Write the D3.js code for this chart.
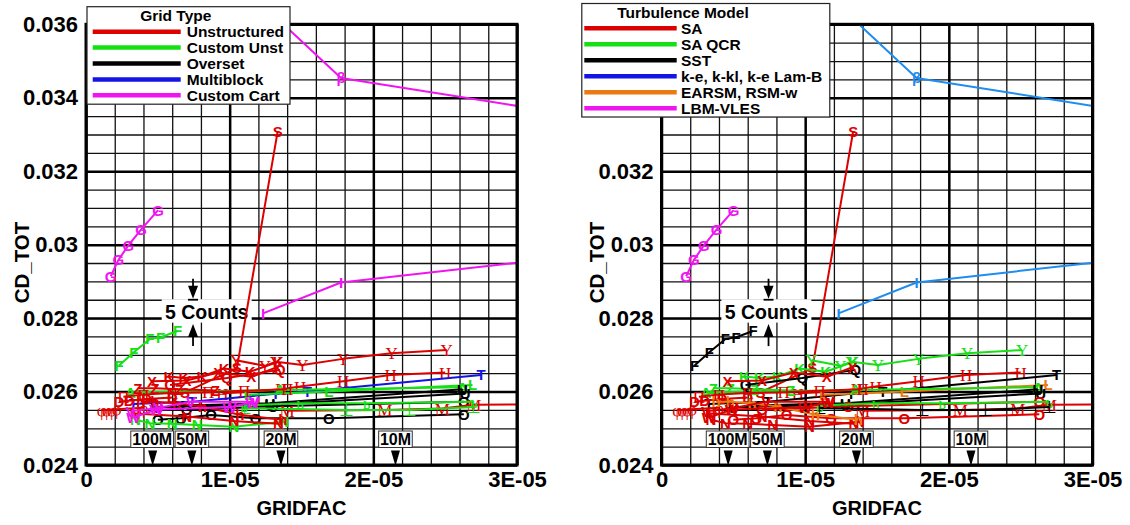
<!DOCTYPE html>
<html>
<head>
<meta charset="utf-8">
<script src="https://cdn.jsdelivr.net/npm/d3@7"></script>
<style>
  html, body { margin: 0; padding: 0; background: #fff; }
  svg { display: block; font-family: "Liberation Sans", Arial, sans-serif; }
</style>
</head>
<body>
<svg id="chart" width="1130" height="525"></svg>
<script>
// ---- categories and colours ----
const gridTypes = ["Unstructured", "Custom Unst", "Overset", "Multiblock", "Custom Cart"];
const gridColors = ["#dd0000", "#14e014", "#000000", "#1414e6", "#f014f0"];
const turbModels = ["SA", "SA QCR", "SST", "k-e, k-kl, k-e Lam-B", "EARSM, RSM-w", "LBM-VLES", "other"];
const modelColors = ["#dd0000", "#14e014", "#000000", "#1414e6", "#ec7a12", "#f014f0", "#1e8cf0"];
const modelsInLegend = 6;

// ---- axis ticks ----
const xTicks = [0, 1e-5, 2e-5, 3e-5];
const xTickLabels = ["0", "1E-05", "2E-05", "3E-05"];
const yTicks = [0.024, 0.026, 0.028, 0.030, 0.032, 0.034, 0.036];
const yTickLabels = ["0.024", "0.026", "0.028", "0.03", "0.032", "0.034", "0.036"];

// ---- mesh size markers (GRIDFAC of the named meshes) ----
const meshLabels = ["100M", "50M", "20M", "10M"];
const meshGridfac = [4.64e-6, 7.37e-6, 1.357e-5, 2.154e-5];

// ---- "5 Counts" scale bar ----
const countsText = "5 Counts";
const countsRange = [0.0280, 0.0285];

// ---- series: symbol, grid type, turbulence model, GRIDFAC, CD_TOT ----
const seriesMarker = ["β", "I", "G", "S", "F", "Y", "H", "T", "L", "A", "U", "U", "O", "O", "M",
                      "ь", "⊥", "φ", "D", "Z", "K", "Q", "N", "N", "h", "V", "W", "X", "Π"];
const seriesGrid  = [4, 4, 4, 0, 1, 0, 0, 3, 1, 1, 2, 2, 2, 2, 0,
                     1, 1, 0, 0, 0, 0, 0, 1, 0, 0, 4, 4, 0, 0];
const seriesModel = [6, 6, 5, 0, 2, 1, 0, 2, 4, 1, 2, 2, 0, 0, 0,
                     1, 2, 0, 0, 1, 1, 2, 0, 0, 4, 0, 0, 0, 0];
const seriesX = [
  [1.10e-5, 1.775e-5, 3.40e-5],
  [1.232e-5, 1.775e-5, 3.40e-5],
  [1.72e-6, 2.25e-6, 2.95e-6, 3.83e-6, 5.02e-6],
  [6.9e-6, 1.05e-5, 1.334e-5],
  [2.30e-6, 3.33e-6, 4.45e-6, 5.20e-6, 6.37e-6],
  [1.044e-5, 1.246e-5, 1.322e-5, 1.507e-5, 1.789e-5, 2.127e-5, 2.510e-5],
  [9.5e-6, 1.36e-5, 1.49e-5, 1.79e-5, 2.12e-5, 2.50e-5],
  [3.3e-6, 4.6e-6, 7.4e-6, 1.32e-5, 1.54e-5, 2.75e-5],
  [1.13e-5, 1.69e-5, 2.69e-5],
  [3.1e-6, 1.35e-5, 2.62e-5],
  [6.5e-6, 1.28e-5, 2.62e-5],
  [5.0e-6, 1.28e-5, 2.64e-5],
  [7.0e-6, 1.30e-5, 2.63e-5],
  [5.0e-6, 6.6e-6, 8.7e-6, 1.18e-5, 1.69e-5, 2.63e-5],
  [1.40e-5, 2.08e-5, 2.48e-5, 2.70e-5, 3.40e-5],
  [1.10e-5, 1.49e-5, 1.954e-5, 2.70e-5],
  [1.10e-5, 1.815e-5, 2.255e-5, 2.70e-5],
  [1.09e-6, 1.44e-6, 1.79e-6, 2.13e-6, 4.0e-6],
  [2.3e-6, 3.0e-6, 4.2e-6, 6.0e-6],
  [3.6e-6, 4.8e-6, 6.5e-6, 9.0e-6],
  [5.78e-6, 6.82e-6, 8.07e-6, 9.61e-6, 1.142e-5, 1.337e-5],
  [5.85e-6, 9.8e-6, 1.35e-5],
  [3.44e-6, 4.45e-6, 5.99e-6, 7.73e-6, 1.03e-5, 1.378e-5],
  [3.4e-6, 7.0e-6, 1.03e-5, 1.34e-5],
  [3.8e-6, 4.8e-6, 6.3e-6, 8.1e-6, 1.07e-5, 1.37e-5],
  [3.1e-6, 5.0e-6, 7.3e-6, 1.17e-5],
  [3.3e-6, 4.9e-6, 1.0e-5, 1.16e-5],
  [4.6e-6, 7.0e-6, 9.2e-6, 1.15e-5, 1.33e-5],
  [2.6e-6, 4.0e-6, 6.0e-6, 8.5e-6, 1.1e-5, 1.4e-5]
];
const seriesY = [
  [0.0370, 0.03454, 0.03353],
  [0.02813, 0.02897, 0.02968],
  [0.02914, 0.02958, 0.02998, 0.03041, 0.03094],
  [0.02598, 0.02664, 0.03308],
  [0.02671, 0.02707, 0.02743, 0.02748, 0.02765],
  [0.02685, 0.02670, 0.02681, 0.02672, 0.02689, 0.02704, 0.02713],
  [0.02595, 0.02606, 0.02614, 0.02628, 0.02645, 0.02652],
  [0.02566, 0.02568, 0.02572, 0.02594, 0.02600, 0.02645],
  [0.02591, 0.02600, 0.02618],
  [0.02598, 0.02604, 0.02612],
  [0.02562, 0.02568, 0.02606],
  [0.02557, 0.02565, 0.02595],
  [0.02550, 0.02560, 0.02572],
  [0.02523, 0.02527, 0.02536, 0.02527, 0.02527, 0.02538],
  [0.02548, 0.02550, 0.02554, 0.02564, 0.02566],
  [0.02562, 0.02568, 0.02568, 0.02572],
  [0.02555, 0.02550, 0.02550, 0.02558],
  [0.02550, 0.02550, 0.02551, 0.02552, 0.02556],
  [0.02572, 0.02575, 0.02580, 0.02584],
  [0.02609, 0.02609, 0.02606, 0.02603],
  [0.02641, 0.02637, 0.02641, 0.02663, 0.02654, 0.02681],
  [0.02618, 0.02637, 0.02659],
  [0.02523, 0.02514, 0.02512, 0.02509, 0.02504, 0.02518],
  [0.02540, 0.02532, 0.02520, 0.02512],
  [0.02572, 0.02572, 0.02568, 0.02559, 0.02537, 0.02523],
  [0.02546, 0.02555, 0.02572, 0.02572],
  [0.02529, 0.02551, 0.02557, 0.02571],
  [0.02628, 0.02630, 0.02652, 0.02640, 0.02666],
  [0.02586, 0.02592, 0.02596, 0.02598, 0.02602, 0.02606]
];
// symbols drawn in a serif face
const serifMarkers = new Set(["Y", "H", "M", "φ", "Π", "ь", "⊥"]);

// ---- layout ----
const plotW = 431, plotTop = 24.3, plotBottom = 465;
const svg = d3.select("#chart");

const x = d3.scaleLinear().domain([0, 3e-5]).range([0, plotW]);
const y = d3.scaleLinear().domain([0.024, 0.036]).range([plotBottom, plotTop]);
const minorX = d3.range(0, 3e-5 + 1e-12, 2e-6);
const minorY = d3.range(0.024, 0.0360001, 0.0005);
const inDomain = d => d[0] >= 0 && d[0] <= 3e-5 && d[1] >= 0.024 && d[1] <= 0.036;

function drawPanel(ox, panelId, colorOf, legend, countsLabelX) {
  const g = svg.append("g").attr("transform", `translate(${ox},0)`);

  // grid: thin minor lines, heavier major lines
  g.append("g").attr("transform", `translate(0,${plotBottom})`)
    .call(d3.axisBottom(x).tickValues(minorX).tickSize(-(plotBottom - plotTop)).tickFormat(""))
    .call(a => { a.select(".domain").remove(); a.selectAll("line").attr("stroke", "#111").attr("stroke-width", 1.3); });
  g.append("g")
    .call(d3.axisLeft(y).tickValues(minorY).tickSize(-plotW).tickFormat(""))
    .call(a => { a.select(".domain").remove(); a.selectAll("line").attr("stroke", "#111").attr("stroke-width", 1.3); });
  g.append("g").attr("transform", `translate(0,${plotBottom})`)
    .call(d3.axisBottom(x).tickValues(xTicks).tickSize(-(plotBottom - plotTop)).tickFormat(""))
    .call(a => { a.select(".domain").remove(); a.selectAll("line").attr("stroke", "#000").attr("stroke-width", 2.5); });
  g.append("g")
    .call(d3.axisLeft(y).tickValues(yTicks).tickSize(-plotW).tickFormat(""))
    .call(a => { a.select(".domain").remove(); a.selectAll("line").attr("stroke", "#000").attr("stroke-width", 2.5); });

  // tick labels
  g.append("g")
    .call(d3.axisLeft(y).tickValues(yTicks).tickFormat((d, i) => yTickLabels[i]).tickSize(0).tickPadding(8))
    .call(a => {
      a.select(".domain").remove();
      a.selectAll("text").attr("font-size", 22).attr("font-weight", "bold").attr("fill", "#000")
        .attr("font-family", "Liberation Sans, Arial, sans-serif");
    });
  g.append("g").attr("transform", `translate(0,${plotBottom})`)
    .call(d3.axisBottom(x).tickValues(xTicks).tickFormat((d, i) => xTickLabels[i]).tickSize(0).tickPadding(6))
    .call(a => {
      a.select(".domain").remove();
      a.selectAll("text").attr("font-size", 22).attr("font-weight", "bold").attr("fill", "#000")
        .attr("font-family", "Liberation Sans, Arial, sans-serif");
    });

  // axis titles
  g.append("text").attr("x", plotW / 2).attr("y", 515).attr("text-anchor", "middle")
    .attr("font-size", 20).attr("font-weight", "bold").text("GRIDFAC");
  g.append("text").attr("transform", `translate(${28.5 - 86},262.5) rotate(-90)`)
    .attr("text-anchor", "middle").attr("font-size", 20.5).attr("font-weight", "bold").text("CD_TOT");

  // mesh size call-outs
  const boxes = meshLabels.map((t, i) => {
    const w = t.length * 9.2 + 6;
    return { t, cx: x(meshGridfac[i]), w, left: x(meshGridfac[i]) - w / 2 };
  });
  for (let i = boxes.length - 2; i >= 0; i--) {
    const limit = boxes[i + 1].left - 1.5;
    if (boxes[i].left + boxes[i].w > limit) boxes[i].left = limit - boxes[i].w;
  }
  boxes.forEach(b => {
    g.append("rect").attr("x", b.left).attr("y", 431).attr("width", b.w).attr("height", 16.5)
      .attr("fill", "#fff").attr("stroke", "#333").attr("stroke-width", 1);
    g.append("text").attr("x", b.left + b.w / 2).attr("y", 445.3).attr("text-anchor", "middle")
      .attr("font-size", 16).attr("font-weight", "bold").text(b.t);
    g.append("path").attr("d", `M${b.cx - 4.5},450.5 L${b.cx + 4.5},450.5 L${b.cx},466 Z`).attr("fill", "#000");
  });

  // "5 Counts" scale bar
  const ax = x(7.45e-6);
  const yHi = y(countsRange[1]), yLo = y(countsRange[0]);
  const lw = 90, lx = x(countsLabelX) - lw / 2;
  g.append("rect").attr("x", lx).attr("y", yHi - 0.5).attr("width", lw).attr("height", yLo - yHi + 5)
    .attr("fill", "#fff");
  g.append("text").attr("x", lx + lw / 2).attr("y", yHi + 19.5).attr("text-anchor", "middle")
    .attr("font-size", 19.5).attr("font-weight", "bold").text(countsText);
  g.append("line").attr("x1", ax - 5).attr("x2", ax + 5).attr("y1", yHi).attr("y2", yHi)
    .attr("stroke", "#000").attr("stroke-width", 1.8);
  g.append("line").attr("x1", ax).attr("x2", ax).attr("y1", yHi - 21).attr("y2", yHi - 10)
    .attr("stroke", "#000").attr("stroke-width", 1.8);
  g.append("path").attr("d", `M${ax - 5},${yHi - 14} L${ax + 5},${yHi - 14} L${ax},${yHi - 1} Z`).attr("fill", "#000");
  const upTip = yLo + 6;
  g.append("line").attr("x1", ax).attr("x2", ax).attr("y1", upTip + 10).attr("y2", upTip + 22)
    .attr("stroke", "#000").attr("stroke-width", 1.8);
  g.append("path").attr("d", `M${ax - 5},${upTip + 13} L${ax + 5},${upTip + 13} L${ax},${upTip} Z`).attr("fill", "#000");

  // series
  const clipId = "clip-" + panelId;
  g.append("clipPath").attr("id", clipId).append("rect")
    .attr("x", 0).attr("y", plotTop).attr("width", plotW).attr("height", plotBottom - plotTop);
  const data = g.append("g").attr("clip-path", `url(#${clipId})`);
  const line = d3.line().x(d => x(d[0])).y(d => y(d[1]));
  seriesX.forEach((xs, i) => {
    const pts = xs.map((v, j) => [v, seriesY[i][j]]);
    const col = colorOf(i);
    data.append("path").datum(pts).attr("d", line).attr("fill", "none")
      .attr("stroke", col).attr("stroke-width", 2).attr("stroke-linejoin", "round");
    const serif = serifMarkers.has(seriesMarker[i]);
    data.selectAll(null).data(pts.filter(inDomain)).enter().append("text")
      .attr("x", d => x(d[0])).attr("y", d => y(d[1]))
      .attr("dy", "0.36em").attr("text-anchor", "middle")
      .attr("font-family", serif ? "Liberation Serif, serif" : "Liberation Sans, Arial, sans-serif")
      .attr("font-size", serif ? 17 : 15).attr("font-weight", serif ? "normal" : "bold")
      .attr("fill", col).text(seriesMarker[i]);
  });

  // frame
  g.append("rect").attr("x", 0).attr("y", plotTop).attr("width", plotW).attr("height", plotBottom - plotTop)
    .attr("fill", "none").attr("stroke", "#000").attr("stroke-width", 3);

  // legend
  const L = legend;
  const lg = svg.append("g");
  lg.append("rect").attr("x", L.x).attr("y", L.y).attr("width", L.w).attr("height", L.h)
    .attr("fill", "#fff").attr("stroke", "#222").attr("stroke-width", 1.2);
  lg.append("text").attr("x", L.titleX).attr("y", L.titleY + 5.5).attr("text-anchor", "middle")
    .attr("font-size", 15.5).attr("font-weight", "bold").text(L.title);
  L.items.forEach((name, i) => {
    const cy = L.row0 + i * L.rowStep;
    lg.append("line").attr("x1", L.lineX1).attr("x2", L.lineX2).attr("y1", cy).attr("y2", cy)
      .attr("stroke", L.colors[i]).attr("stroke-width", 4.5);
    lg.append("text").attr("x", L.textX).attr("y", cy + 5.6).attr("font-size", 15.5)
      .attr("font-weight", "bold").text(name);
  });
}

drawPanel(86, "grid", i => gridColors[seriesGrid[i]], {
  x: 87, y: 6.7, w: 203, h: 97.5, title: "Grid Type", titleX: 175.8, titleY: 15.7,
  items: gridTypes, colors: gridColors, row0: 31.7, rowStep: 15.9,
  lineX1: 92.7, lineX2: 180.7, textX: 186.7
}, 8.4e-6);

drawPanel(661.5, "model", i => modelColors[seriesModel[i]], {
  x: 581.8, y: 3.5, w: 248, h: 113.5, title: "Turbulence Model", titleX: 683, titleY: 12.7,
  items: turbModels.slice(0, modelsInLegend), colors: modelColors.slice(0, modelsInLegend),
  row0: 28.3, rowStep: 16,
  lineX1: 584.3, lineX2: 676.7, textX: 681
}, 7.3e-6);
</script>
</body>
</html>
